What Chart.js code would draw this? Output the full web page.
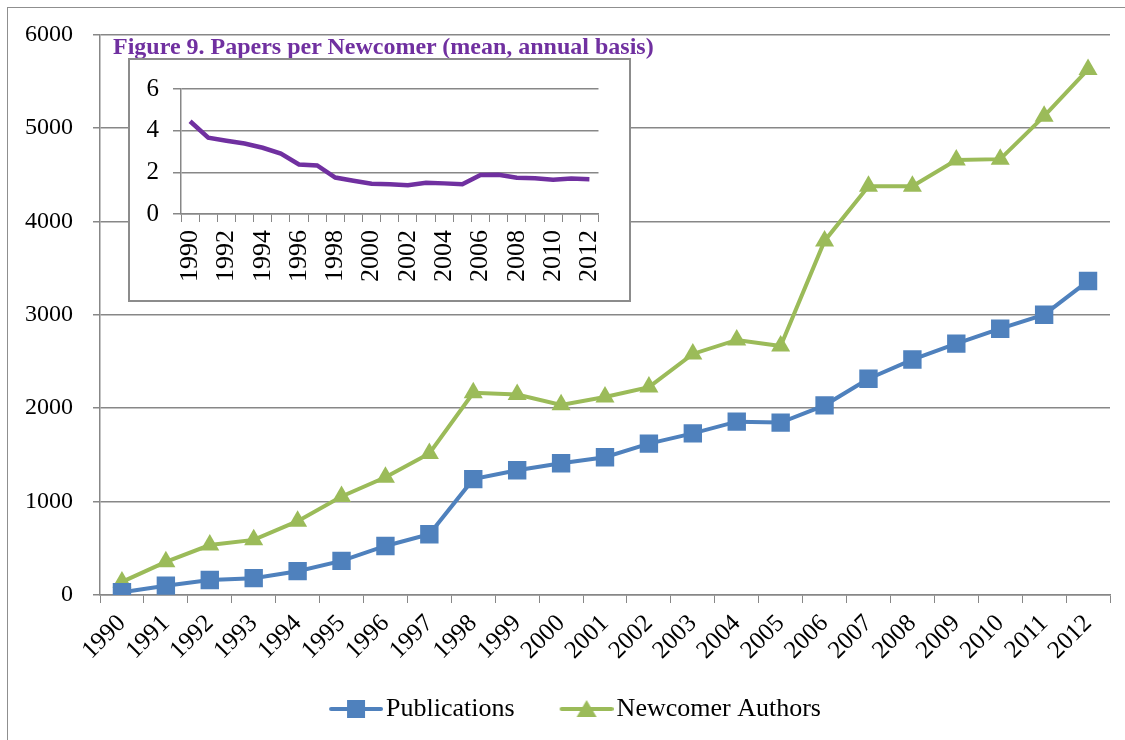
<!DOCTYPE html>
<html>
<head>
<meta charset="utf-8">
<script src="https://cdn.jsdelivr.net/npm/chart.js@4.4.1/dist/chart.umd.min.js"></script>
<style>
  body { margin: 0; background: #fff; }
  #wrap { position: relative; width: 1125px; height: 740px; overflow: hidden; background: #fff; }
  #frame { position: absolute; left: 7px; top: 7px; width: 1200px; height: 800px;
           border-left: 1px solid #8f8f8f; border-top: 1px solid #8f8f8f; }
  #main { position: absolute; left: 0; top: 0; }
  #insetTitle { position: absolute; left: 113px; top: 33px; color: #7030A0;
                font: bold 24px "Liberation Serif", serif; white-space: nowrap; }
  #insetBox { position: absolute; left: 128px; top: 58px; width: 503px; height: 244px;
              box-sizing: border-box; border: 2px solid #8c8c8c; background: #fff; }
  #inset { position: absolute; left: 0; top: 0; }
</style>
</head>
<body>
<div id="wrap">
  <div id="frame"></div>
  <canvas id="main" width="1125" height="740"></canvas>
  <div id="insetTitle">Figure 9. Papers per Newcomer (mean, annual basis)</div>
  <div id="insetBox"><canvas id="inset" width="499" height="240"></canvas></div>
</div>
<script>
const years = ['1990', '1991', '1992', '1993', '1994', '1995', '1996', '1997', '1998', '1999', '2000',
  '2001', '2002', '2003', '2004', '2005', '2006', '2007', '2008', '2009', '2010', '2011', '2012'];
const publications = [30, 100, 160, 180, 255, 365, 525, 650, 1240, 1335, 1410,
  1475, 1620, 1730, 1855, 1845, 2030, 2315, 2520, 2690, 2850, 3000, 3360];
const newcomerAuthors = [140, 355, 535, 590, 790, 1055, 1260, 1515, 2165, 2145, 2035,
  2120, 2225, 2580, 2730, 2665, 3790, 4375, 4375, 4655, 4665, 5125, 5625];
const papersPerNewcomer = [4.45, 3.66, 3.52, 3.38, 3.18, 2.9, 2.38, 2.33, 1.75, 1.6, 1.45,
  1.43, 1.38, 1.5, 1.47, 1.43, 1.87, 1.88, 1.74, 1.72, 1.64, 1.7, 1.67];

const BLUE = '#4F81BD';
const GREEN = '#9BBB59';
const PURPLE = '#7030A0';
const GRID = '#878787';
const FONT = '"Liberation Serif", serif';

// legend swatch: line with marker, like the spreadsheet legend.
// wider than the legend box so it sits close to the label text
function legendSwatch(color, style) {
  const c = document.createElement('canvas');
  c.width = 64; c.height = 22;
  const g = c.getContext('2d');
  g.strokeStyle = color;
  g.lineWidth = 4;
  g.lineCap = 'round';
  g.beginPath(); g.moveTo(12, 11); g.lineTo(62, 11); g.stroke();
  g.fillStyle = color;
  if (style === 'rect') {
    g.fillRect(28, 2, 18, 18);
  } else {
    g.beginPath(); g.moveTo(37, 2); g.lineTo(47, 19); g.lineTo(27, 19); g.closePath(); g.fill();
  }
  return c;
}

// the legend needs a wide gap and sits off-centre, so the axes are squeezed for layout;
// widen their label clip areas back out afterwards
const unclipLabels = {
  id: 'unclipLabels',
  afterLayout(chart) {
    chart.scales.x.bottom += 45;
    chart.scales.y.left = 0;
  }
};

new Chart(document.getElementById('main').getContext('2d'), {
  type: 'line',
  data: {
    labels: years,
    datasets: [
      {
        label: 'Publications',
        data: publications,
        borderColor: BLUE,
        backgroundColor: BLUE,
        borderWidth: 4,
        pointStyle: 'rect',
        pointRadius: 13,
        pointBorderWidth: 0,
        legendImg: legendSwatch(BLUE, 'rect')
      },
      {
        label: 'Newcomer Authors',
        data: newcomerAuthors,
        borderColor: GREEN,
        backgroundColor: GREEN,
        borderWidth: 4,
        pointStyle: 'triangle',
        pointRadius: 11,
        pointBorderWidth: 0,
        legendImg: legendSwatch(GREEN, 'triangle')
      }
    ]
  },
  options: {
    responsive: false,
    animation: false,
    layout: { padding: { top: 33, right: 15, bottom: 8, left: 40 } },
    plugins: {
      tooltip: { enabled: false },
      legend: {
        position: 'bottom',
        labels: {
          usePointStyle: true,
          pointStyleWidth: 44,
          padding: 45,
          color: '#000',
          font: { family: FONT, size: 26 },
          generateLabels: chart => chart.data.datasets.map((ds, i) => ({
            text: ds.label,
            pointStyle: ds.legendImg,
            fontColor: '#000',
            datasetIndex: i,
            hidden: false
          }))
        }
      }
    },
    scales: {
      x: {
        offset: true,
        afterFit: scale => { scale.height = 56; },
        grid: { offset: true, drawOnChartArea: false, color: GRID, tickLength: 8 },
        border: { color: GRID, width: 1.5 },
        ticks: { color: '#000', font: { family: FONT, size: 25 }, minRotation: 45, maxRotation: 45, padding: 6, autoSkip: false }
      },
      y: {
        min: 0,
        max: 6000,
        afterFit: scale => { scale.width = 60; },
        grid: { color: GRID, lineWidth: 1.5, tickLength: 7 },
        border: { color: GRID, width: 1.5 },
        ticks: { stepSize: 1000, color: '#000', font: { family: FONT, size: 24 }, padding: 20,
          callback: v => String(v) }
      }
    }
  },
  plugins: [unclipLabels]
});

// Figure 9 inset
new Chart(document.getElementById('inset').getContext('2d'), {
  type: 'line',
  data: {
    labels: years,
    datasets: [{
      label: 'Papers per Newcomer',
      data: papersPerNewcomer,
      borderColor: PURPLE,
      borderWidth: 4.5,
      pointRadius: 0
    }]
  },
  options: {
    responsive: false,
    animation: false,
    layout: { padding: { top: 26, right: 18, bottom: 0, left: 0 } },
    plugins: { legend: { display: false }, tooltip: { enabled: false } },
    scales: {
      x: {
        offset: true,
        afterFit: scale => { scale.height = 86; },
        grid: { offset: true, drawOnChartArea: false, color: GRID, tickLength: 8 },
        border: { color: GRID, width: 1.5 },
        ticks: {
          color: '#000', font: { family: FONT, size: 26 }, minRotation: 90, maxRotation: 90,
          autoSkip: false, padding: 8,
          callback: (v, i) => (i % 2 === 0 ? years[i] : '')
        }
      },
      y: {
        min: 0,
        max: 6,
        afterFit: scale => { scale.width = 51; },
        grid: { color: GRID, lineWidth: 1.5, tickLength: 8 },
        border: { color: GRID, width: 1.5 },
        ticks: { stepSize: 2, color: '#000', font: { family: FONT, size: 25 }, padding: 14 }
      }
    }
  }
});
</script>
</body>
</html>
